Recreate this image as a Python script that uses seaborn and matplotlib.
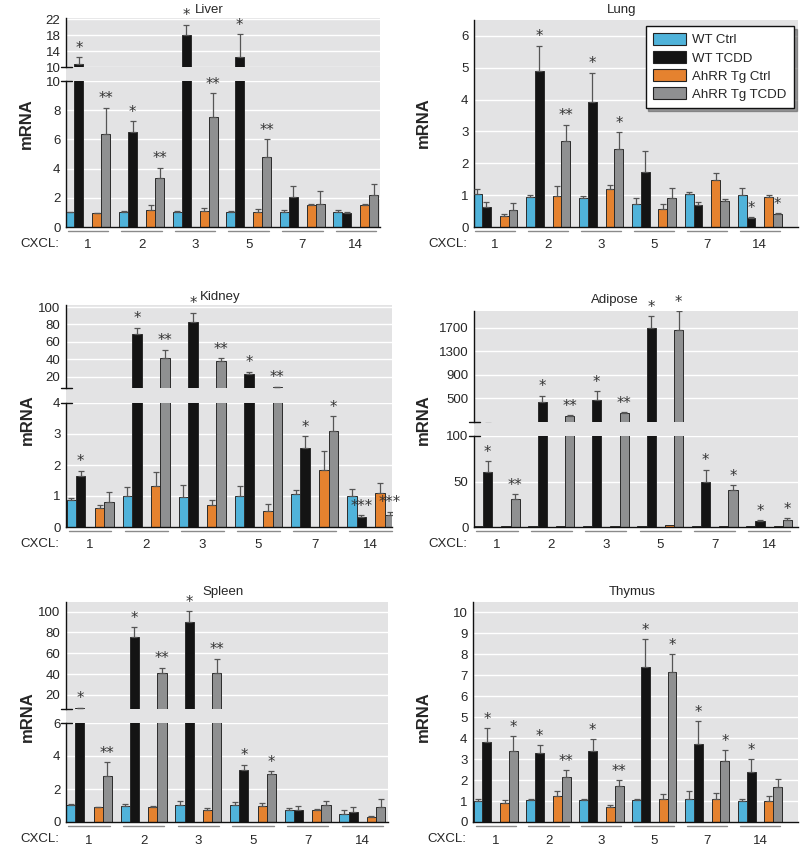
import numpy as np
import pandas as pd
import matplotlib
matplotlib.use("Agg")
import matplotlib.pyplot as plt
import matplotlib.transforms as mtransforms
from matplotlib.patches import Patch, Rectangle
from matplotlib.lines import Line2D
import seaborn as sns

# ---------------- data ----------------
genes = ["1", "2", "3", "5", "7", "14"]
groups = ["WT Ctrl", "WT TCDD", "AhRR Tg Ctrl", "AhRR Tg TCDD"]
colors = ["#50b3da", "#141414", "#e5822f", "#8f9091"]

# Liver
liver_wt_ctrl = [1.0, 1.0, 1.0, 1.0, 1.0, 1.0]
liver_wt_tcdd = [10.75, 6.48, 17.9, 12.5, 2.06, 0.95]
liver_tg_ctrl = [0.94, 1.17, 1.08, 1.05, 1.5, 1.52]
liver_tg_tcdd = [6.4, 3.34, 7.55, 4.81, 1.6, 2.22]
liver_err_wt_ctrl = [0.05, 0.08, 0.12, 0.1, 0.18, 0.14]
liver_err_wt_tcdd = [1.75, 0.77, 2.7, 5.7, 0.75, 0.09]
liver_err_tg_ctrl = [0.04, 0.37, 0.22, 0.16, 0.08, 0.08]
liver_err_tg_tcdd = [1.77, 0.73, 1.6, 1.19, 0.9, 0.73]
liver_sig_wt_tcdd = ["*", "*", "*", "*", "", ""]
liver_sig_tg_tcdd = ["**", "**", "**", "**", "", ""]

# Lung
lung_wt_ctrl = [1.03, 0.93, 0.9, 0.73, 1.03, 0.99]
lung_wt_tcdd = [0.62, 4.89, 3.93, 1.74, 0.69, 0.28]
lung_tg_ctrl = [0.35, 0.98, 1.19, 0.56, 1.48, 0.93]
lung_tg_tcdd = [0.52, 2.7, 2.44, 0.92, 0.81, 0.41]
lung_err_wt_ctrl = [0.17, 0.09, 0.06, 0.17, 0.07, 0.23]
lung_err_wt_tcdd = [0.16, 0.8, 0.92, 0.66, 0.11, 0.02]
lung_err_tg_ctrl = [0.07, 0.31, 0.12, 0.16, 0.21, 0.08]
lung_err_tg_tcdd = [0.24, 0.51, 0.54, 0.29, 0.08, 0.03]
lung_sig_wt_tcdd = ["", "*", "*", "", "", "*"]
lung_sig_tg_tcdd = ["", "**", "*", "", "", "*"]

# Kidney
kidney_wt_ctrl = [0.88, 1.01, 0.98, 1.01, 1.05, 0.99]
kidney_wt_tcdd = [1.66, 69.5, 82.9, 23.0, 2.56, 0.31]
kidney_tg_ctrl = [0.62, 1.31, 0.70, 0.52, 1.85, 1.11]
kidney_tg_tcdd = [0.81, 41.0, 37.5, 8.0, 3.09, 0.39]
kidney_err_wt_ctrl = [0.06, 0.27, 0.38, 0.31, 0.15, 0.22]
kidney_err_wt_tcdd = [0.16, 6.9, 10.6, 2.7, 0.37, 0.08]
kidney_err_tg_ctrl = [0.09, 0.45, 0.16, 0.23, 0.6, 0.3]
kidney_err_tg_tcdd = [0.31, 10.2, 3.5, 0.6, 0.48, 0.1]
kidney_sig_wt_tcdd = ["*", "*", "*", "*", "*", "***"]
kidney_sig_tg_tcdd = ["", "**", "**", "**", "*", "***"]

# Adipose
adipose_wt_ctrl = [1.0, 1.0, 1.0, 1.0, 1.0, 1.0]
adipose_wt_tcdd = [60.0, 440.0, 470.0, 1700.0, 50.0, 6.7]
adipose_tg_ctrl = [1.0, 1.5, 1.0, 2.0, 1.0, 1.0]
adipose_tg_tcdd = [30.4, 200.0, 243.0, 1670.0, 41.0, 7.4]
adipose_err_wt_ctrl = [0, 0, 0, 0, 0, 0]
adipose_err_wt_tcdd = [12.0, 105.0, 150.0, 200.0, 13.0, 0.7]
adipose_err_tg_ctrl = [0, 0, 0, 0, 0, 0]
adipose_err_tg_tcdd = [5.6, 15.0, 17.0, 320.0, 5.0, 2.6]
adipose_sig_wt_tcdd = ["*", "*", "*", "*", "*", "*"]
adipose_sig_tg_tcdd = ["**", "**", "**", "*", "*", "*"]

# Spleen
spleen_wt_ctrl = [1.05, 0.99, 1.05, 1.05, 0.73, 0.5]
spleen_wt_tcdd = [7.3, 76.0, 89.8, 3.15, 0.7, 0.6]
spleen_tg_ctrl = [0.9, 0.93, 0.75, 1.0, 0.73, 0.3]
spleen_tg_tcdd = [2.77, 40.8, 41.4, 2.9, 1.05, 0.89]
spleen_err_wt_ctrl = [0.04, 0.1, 0.22, 0.15, 0.1, 0.2]
spleen_err_wt_tcdd = [0.6, 9.0, 10.8, 0.32, 0.27, 0.29]
spleen_err_tg_ctrl = [0.03, 0.04, 0.12, 0.13, 0.06, 0.04]
spleen_err_tg_tcdd = [0.87, 5.2, 13.6, 0.17, 0.24, 0.5]
spleen_sig_wt_tcdd = ["*", "*", "*", "*", "", ""]
spleen_sig_tg_tcdd = ["**", "**", "**", "*", "", ""]

# Thymus
thymus_wt_ctrl = [1.01, 1.04, 1.03, 1.03, 1.12, 1.01]
thymus_wt_tcdd = [3.83, 3.29, 3.39, 7.41, 3.73, 2.37]
thymus_tg_ctrl = [0.93, 1.23, 0.71, 1.12, 1.09, 1.01]
thymus_tg_tcdd = [3.37, 2.14, 1.72, 7.18, 2.93, 1.65]
thymus_err_wt_ctrl = [0.11, 0.08, 0.06, 0.09, 0.34, 0.11]
thymus_err_wt_tcdd = [0.66, 0.38, 0.55, 1.32, 1.08, 0.62]
thymus_err_tg_ctrl = [0.11, 0.24, 0.1, 0.21, 0.29, 0.21]
thymus_err_tg_tcdd = [0.73, 0.33, 0.27, 0.82, 0.5, 0.39]
thymus_sig_wt_tcdd = ["*", "*", "*", "*", "*", "*"]
thymus_sig_tg_tcdd = ["*", "**", "**", "*", "*", ""]

# ---------------- style ----------------
sns.set_style("white")
plt.rcParams["font.family"] = ["Liberation Sans", "DejaVu Sans"]
plt.rcParams["font.size"] = 9

W, H = 800, 849
BG = "#e3e3e4"
GAP = "_gap"
FS = 9.5
hue_levels = [groups[0], groups[1], GAP, groups[2], groups[3]]
palette = {g: c for g, c in zip(groups, colors)}
palette[GAP] = BG

fig = plt.figure(figsize=(W / 100, H / 100), dpi=100)


def px_rect(l, t, r, b):
    return [l / W, 1 - b / H, (r - l) / W, (b - t) / H]


def make_df(means):
    rows = []
    for g, vals in zip(groups, means):
        for gene, v in zip(genes, vals):
            rows.append({"gene": gene, "group": g, "value": v})
    for gene in genes:
        rows.append({"gene": gene, "group": GAP, "value": 0.0})
    return pd.DataFrame(rows)


def style_axis(ax, ylim, yticks, xlim, bottom=True):
    ax.set_facecolor(BG)
    ax.set_xlim(*xlim)
    ax.set_ylim(*ylim)
    ax.set_yticks(yticks)
    ax.set_yticklabels([str(t) for t in yticks], fontsize=FS)
    ax.set_axisbelow(True)
    ax.yaxis.grid(True, color="white", lw=1.0)
    ax.xaxis.grid(False)
    ax.tick_params(axis="y", length=0, pad=4)
    ax.tick_params(axis="x", length=0, pad=9)
    ax.set_xlabel("")
    ax.set_ylabel("")
    for s in ["top", "right"]:
        ax.spines[s].set_visible(False)
    ax.spines["left"].set_color("#111")
    ax.spines["left"].set_linewidth(1.0)
    if bottom:
        ax.spines["bottom"].set_color("#111")
        ax.spines["bottom"].set_linewidth(1.0)
        ax.set_xticks(range(len(genes)))
        ax.set_xticklabels(genes, fontsize=FS)
        ax.annotate("CXCL:", xy=(0, 0), xycoords="axes fraction", xytext=(-7, -17),
                    textcoords="offset pixels", ha="right", va="center", fontsize=FS)
        blend = mtransforms.blended_transform_factory(ax.transData, ax.transAxes)
        off = mtransforms.offset_copy(blend, fig=fig, x=0, y=-4, units="dots")
        for i in range(len(genes)):
            ax.add_line(Line2D([i - 0.38, i + 0.38], [0, 0], transform=off,
                               color="#8a8a8a", lw=1.0, clip_on=False))
    else:
        ax.spines["bottom"].set_visible(False)
        ax.set_xticks([])


def break_mark(ax, yfrac):
    w = ax.get_position().width * W
    d = 5.5 / w
    ax.add_line(Line2D([-d, d], [yfrac, yfrac], transform=ax.transAxes,
                       color="#111", lw=1.0, clip_on=False))


def draw_bars(ax, df, errs, sigs, place_fn):
    sns.barplot(data=df, x="gene", y="value", hue="group", order=genes,
                hue_order=hue_levels, palette=palette, width=0.84, saturation=1,
                edgecolor="#2b2b2b", linewidth=0.7, errorbar=None, legend=False,
                ax=ax, dodge=True)
    conts = list(ax.containers)
    for cont, lvl in zip(conts, hue_levels):
        if lvl == GAP:
            for p in cont.patches:
                p.set_visible(False)
            continue
        gi = groups.index(lvl)
        for i, p in enumerate(cont.patches):
            x = p.get_x() + p.get_width() / 2
            h = p.get_height()
            e = errs[gi][i]
            if e > 0:
                ax.errorbar([x], [h], yerr=[[0], [e]], fmt="none", ecolor="#555",
                            elinewidth=0.9, capsize=2.0, capthick=0.9, zorder=3)
            s = sigs.get(lvl, [""] * 6)[i]
            if s and place_fn(h + e):
                ax.annotate(s, xy=(x, h + e), xytext=(0, 1), textcoords="offset points",
                            ha="center", va="bottom", fontsize=10.5, color="#333",
                            family=["DejaVu Sans"])


def panel(title, title_xy, ylabel_xy, means, errs, sigs, lower_rect, lower_ylim, lower_ticks,
          xlim, upper_rect=None, upper_ylim=None, upper_ticks=None):
    df = make_df(means)
    axl = fig.add_axes(px_rect(*lower_rect))
    if upper_rect is not None:
        draw_bars(axl, df, errs, sigs, lambda top: top <= lower_ylim[1])
    else:
        draw_bars(axl, df, errs, sigs, lambda top: True)
    style_axis(axl, lower_ylim, lower_ticks, xlim, bottom=True)
    if upper_rect is not None:
        axu = fig.add_axes(px_rect(*upper_rect))
        draw_bars(axu, df, errs, sigs, lambda top: top > lower_ylim[1])
        style_axis(axu, upper_ylim, upper_ticks, xlim, bottom=False)
        break_mark(axl, 1.0)
        break_mark(axu, 0.0)
        l, t, r, b = upper_rect
        gap = Rectangle((l / W, 1 - lower_rect[1] / H), (r - l) / W, (lower_rect[1] - b) / H,
                        transform=fig.transFigure, facecolor=BG, edgecolor="none", zorder=-1)
        fig.add_artist(gap)
    fig.text(title_xy[0] / W, 1 - title_xy[1] / H, title, ha="center", va="center", fontsize=9.5)
    fig.text(ylabel_xy[0] / W, 1 - ylabel_xy[1] / H, "mRNA", ha="center", va="center",
             rotation=90, fontsize=12, fontweight="bold")
    return axl


def sig_dict(wt, tg):
    return {groups[1]: wt, groups[3]: tg}


panel("Liver", (209, 10), (26, 124),
      [liver_wt_ctrl, liver_wt_tcdd, liver_tg_ctrl, liver_tg_tcdd],
      [liver_err_wt_ctrl, liver_err_wt_tcdd, liver_err_tg_ctrl, liver_err_tg_tcdd],
      sig_dict(liver_sig_wt_tcdd, liver_sig_tg_tcdd),
      (66, 81, 380, 227), (0, 10), [0, 2, 4, 6, 8, 10], (-0.41, 5.45),
      (66, 18, 380, 67), (10, 22.25), [10, 14, 18, 22])

ax_lung = panel("Lung", (622, 10), (423, 123),
                [lung_wt_ctrl, lung_wt_tcdd, lung_tg_ctrl, lung_tg_tcdd],
                [lung_err_wt_ctrl, lung_err_wt_tcdd, lung_err_tg_ctrl, lung_err_tg_tcdd],
                sig_dict(lung_sig_wt_tcdd, lung_sig_tg_tcdd),
                (474, 20, 798, 227), (0, 6.5), [0, 1, 2, 3, 4, 5, 6], (-0.40, 5.72))

panel("Kidney", (220, 297), (27, 420),
      [kidney_wt_ctrl, kidney_wt_tcdd, kidney_tg_ctrl, kidney_tg_tcdd],
      [kidney_err_wt_ctrl, kidney_err_wt_tcdd, kidney_err_tg_ctrl, kidney_err_tg_tcdd],
      sig_dict(kidney_sig_wt_tcdd, kidney_sig_tg_tcdd),
      (66, 403, 392, 527), (0, 4), [0, 1, 2, 3, 4], (-0.43, 5.38),
      (66, 305, 392, 388), (7, 102.3), [20, 40, 60, 80, 100])

panel("Adipose", (615, 300), (423, 420),
      [adipose_wt_ctrl, adipose_wt_tcdd, adipose_tg_ctrl, adipose_tg_tcdd],
      [adipose_err_wt_ctrl, adipose_err_wt_tcdd, adipose_err_tg_ctrl, adipose_err_tg_tcdd],
      sig_dict(adipose_sig_wt_tcdd, adipose_sig_tg_tcdd),
      (474, 436, 798, 527), (0, 100), [0, 50, 100], (-0.42, 5.53),
      (474, 311, 798, 422), (95, 1990), [500, 900, 1300, 1700])

panel("Spleen", (223, 592), (27, 717),
      [spleen_wt_ctrl, spleen_wt_tcdd, spleen_tg_ctrl, spleen_tg_tcdd],
      [spleen_err_wt_ctrl, spleen_err_wt_tcdd, spleen_err_tg_ctrl, spleen_err_tg_tcdd],
      sig_dict(spleen_sig_wt_tcdd, spleen_sig_tg_tcdd),
      (66, 723, 388, 822), (0, 6), [0, 2, 4, 6], (-0.42, 5.47),
      (66, 602, 388, 709), (6.5, 109.3), [20, 40, 60, 80, 100])

panel("Thymus", (632, 592), (423, 717),
      [thymus_wt_ctrl, thymus_wt_tcdd, thymus_tg_ctrl, thymus_tg_tcdd],
      [thymus_err_wt_ctrl, thymus_err_wt_tcdd, thymus_err_tg_ctrl, thymus_err_tg_tcdd],
      sig_dict(thymus_sig_wt_tcdd, thymus_sig_tg_tcdd),
      (473, 602, 798, 822), (0, 10.5), list(range(0, 11)), (-0.43, 5.72))

handles = [Patch(facecolor=c, edgecolor="#222", lw=0.8, label=g) for g, c in zip(groups, colors)]
leg = ax_lung.legend(handles=handles, loc="upper right", bbox_to_anchor=(0.988, 0.972),
                     frameon=True, fancybox=False, shadow=True, fontsize=9.5,
                     handlelength=2.5, handleheight=1.0, borderpad=0.55, labelspacing=0.35,
                     handletextpad=0.5, borderaxespad=0)
leg.get_frame().set_edgecolor("#111")
leg.get_frame().set_linewidth(1.0)
leg.get_frame().set_facecolor("white")

fig.savefig("out.png", dpi=100, facecolor="white")
